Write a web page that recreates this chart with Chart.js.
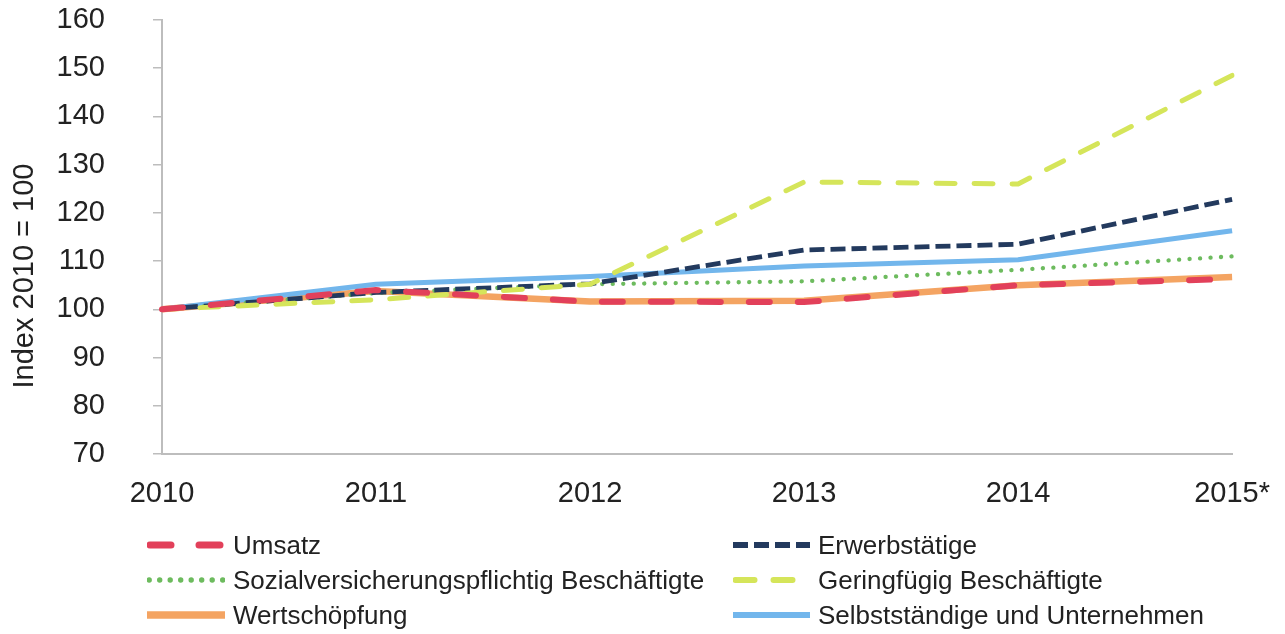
<!DOCTYPE html>
<html>
<head>
<meta charset="utf-8">
<script src="https://cdn.jsdelivr.net/npm/chart.js@4"></script>
<style>
  html, body { margin: 0; padding: 0; background: #fff; }
  #wrap { position: relative; width: 1285px; height: 634px; }
  #chart { position: absolute; left: 0; top: 0; }
  #legend { position: absolute; left: 0; top: 0; width: 1285px; height: 634px; pointer-events: none;
            font-family: "Liberation Sans", Arial, sans-serif; font-size: 26px; color: #222; }
  .item { position: absolute; height: 30px; display: flex; align-items: center; }
  .item svg { display: block; }
  .item span { margin-left: 8px; white-space: nowrap; }
  #ytitle { position: absolute; left: 23px; top: 276px; transform: translate(-50%, -50%) rotate(-90deg);
            font-family: "Liberation Sans", Arial, sans-serif; font-size: 29px; color: #222; white-space: nowrap; line-height: 1; }
</style>
</head>
<body>
<div id="wrap">
  <canvas id="chart" width="1285" height="634"></canvas>
  <div id="legend"></div>
  <div id="ytitle"></div>
</div>
<script>
// ---- data ----
const years = ['2010', '2011', '2012', '2013', '2014', '2015*'];
const umsatz          = [100, 104.0, 101.6, 101.5, 105.0, 106.3];
const erwerbstaetige  = [100, 103.5, 105.3, 112.3, 113.5, 122.8];
const sozialversich   = [100, 103.4, 105.2, 105.8, 108.2, 111.0];
const geringfuegig    = [100, 102.0, 105.2, 126.4, 126.0, 148.5];
const wertschoepfung  = [100, 103.8, 101.6, 101.8, 105.0, 106.7];
const selbststaendige = [100, 105.2, 106.8, 109.0, 110.3, 116.3];
const seriesNames = ['Umsatz', 'Erwerbstätige', 'Sozialversicherungspflichtig Beschäftigte',
                     'Geringfügig Beschäftigte', 'Wertschöpfung', 'Selbstständige und Unternehmen'];
const yTickValues = [70, 80, 90, 100, 110, 120, 130, 140, 150, 160];
const yAxisTitle = 'Index 2010 = 100';

// ---- styles ----
const styles = [
  { color: '#E2405A', width: 6,   dash: [21, 28], cap: 'round', order: 0 },
  { color: '#233A5E', width: 4.8, dash: [15, 6],  cap: 'butt',  order: 2 },
  { color: '#6DBB5E', width: 4.3, dash: [0.1, 10.4], cap: 'round', order: 3 },
  { color: '#D5E55A', width: 5,   dash: [19, 19], cap: 'round', order: 1 },
  { color: '#F4A462', width: 6.5, dash: [],       cap: 'butt',  order: 5 },
  { color: '#72B6EC', width: 5,   dash: [],       cap: 'butt',  order: 4 }
];
const seriesData = [umsatz, erwerbstaetige, sozialversich, geringfuegig, wertschoepfung, selbststaendige];

const FONT = '"Liberation Sans", Arial, sans-serif';

const datasets = seriesData.map((d, i) => ({
  label: seriesNames[i],
  data: d,
  borderColor: styles[i].color,
  backgroundColor: styles[i].color,
  borderWidth: styles[i].width,
  borderDash: styles[i].dash,
  borderCapStyle: styles[i].cap,
  borderJoinStyle: 'round',
  pointRadius: 0,
  tension: 0,
  fill: false,
  order: styles[i].order
}));

new Chart(document.getElementById('chart'), {
  type: 'line',
  data: { labels: years, datasets },
  options: {
    responsive: false,
    animation: false,
    events: [],
    layout: { padding: { top: 20, right: 52, left: 0, bottom: 0 } },
    plugins: { legend: { display: false }, tooltip: { enabled: false } },
    scales: {
      x: {
        offset: false,
        grid: { display: false },
        border: { display: true, color: '#BDBDBD', width: 2 },
        ticks: { color: '#222', padding: 15, font: { family: FONT, size: 29 }, maxRotation: 0, autoSkip: false },
        afterFit: s => { s.height = 180; }
      },
      y: {
        min: 70, max: 160,
        afterBuildTicks: s => { s.ticks = yTickValues.map(v => ({ value: v })); },
        grid: { display: true, drawOnChartArea: false, drawTicks: true, tickLength: 9, color: '#BDBDBD', lineWidth: 1.5 },
        border: { display: true, color: '#BDBDBD', width: 2 },
        ticks: { color: '#222', padding: 48, font: { family: FONT, size: 29 } },
        title: { display: false },
        afterFit: s => { s.width = 162; s.paddingTop = 14; s.paddingBottom = 14; }
      }
    }
  }
});

document.getElementById('ytitle').textContent = yAxisTitle;

// ---- HTML legend (two columns) ----
const legendPos = [
  { x: 147, y: 530 }, { x: 733, y: 530 },
  { x: 147, y: 565 }, { x: 733, y: 565 },
  { x: 147, y: 600 }, { x: 733, y: 600 }
];
const legend = document.getElementById('legend');
seriesNames.forEach((name, i) => {
  const st = styles[i];
  const w = i % 2 === 0 ? 78 : 77;
  const item = document.createElement('div');
  item.className = 'item';
  item.style.left = legendPos[i].x + 'px';
  item.style.top = legendPos[i].y + 'px';
  const svgNS = 'http://www.w3.org/2000/svg';
  const svg = document.createElementNS(svgNS, 'svg');
  svg.setAttribute('width', w);
  svg.setAttribute('height', 14);
  const ln = document.createElementNS(svgNS, 'line');
  const inset = st.cap === 'round' ? st.width / 2 : 0;
  ln.setAttribute('x1', inset); ln.setAttribute('x2', w - inset);
  ln.setAttribute('y1', 7); ln.setAttribute('y2', 7);
  ln.setAttribute('stroke', st.color);
  ln.setAttribute('stroke-width', st.width + 1);
  ln.setAttribute('stroke-linecap', st.cap);
  if (st.dash.length) ln.setAttribute('stroke-dasharray', st.dash.join(' '));
  svg.appendChild(ln);
  const span = document.createElement('span');
  span.textContent = name;
  item.appendChild(svg);
  item.appendChild(span);
  legend.appendChild(item);
});
</script>
</body>
</html>
